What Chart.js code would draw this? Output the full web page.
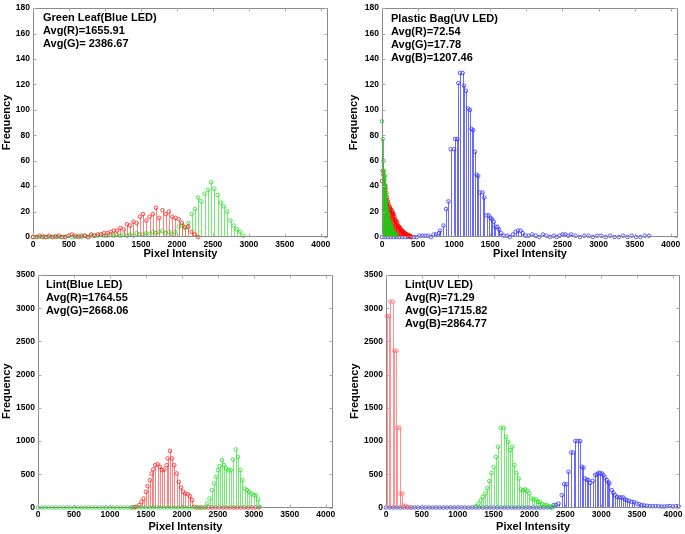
<!DOCTYPE html>
<html>
<head>
<meta charset="utf-8">
<script src="https://cdn.jsdelivr.net/npm/chart.js@4.4.1/dist/chart.umd.min.js"></script>
<style>
  body { margin: 0; background: #fff; }
  #wrap { position: relative; width: 685px; height: 534px; }
  canvas { position: absolute; }
</style>
</head>
<body>
<div id="wrap">
  <canvas id="leaf" width="342" height="262" style="left:0;top:0"></canvas>
  <canvas id="bag" width="343" height="262" style="left:342px;top:0"></canvas>
  <canvas id="lintBlue" width="342" height="272" style="left:0;top:262px"></canvas>
  <canvas id="lintUv" width="343" height="272" style="left:342px;top:262px"></canvas>
</div>
<script>
// tick labels
const xTicks = [0, 500, 1000, 1500, 2000, 2500, 3000, 3500, 4000];
const yTicksTop = [0, 20, 40, 60, 80, 100, 120, 140, 160, 180];
const yTicksBottom = [0, 500, 1000, 1500, 2000, 2500, 3000, 3500];

// Green Leaf (Blue LED)
const leafRedX = [0,45,90,135,180,225,270,315,360,405,450,495,540,585,630,675,720,765,810,855,
  900,945,990,1035,1080,1125,1170,1215,1260,1305,1350,1395,1440,1485,1530,1575,1620,1665,1710,1755,
  1800,1845,1890,1935,1980,2025,2070,2115,2160,2205,2250,2295];
const leafRedY = [0,0,1,0,0,1,0,0,1,0,0,1,2,1,0,1,1,0,2,1,
  2,2,3,3,4,5,5,7,6,10,9,12,11,16,18,13,16,18,23,15,
  21,18,20,16,15,14,11,8,8,4,2,0];
const leafGreenX = [0,45,90,135,180,225,270,315,360,405,450,495,540,585,630,675,720,765,810,855,
  900,945,990,1035,1080,1125,1170,1215,1260,1305,1350,1395,1440,1485,1530,1575,1620,1665,1710,1755,
  1800,1845,1890,1935,1980,2025,2070,2115,2160,2205,2250,2295,2340,2385,2430,2475,2520,2565,2610,2655,
  2700,2745,2790,2835,2880,2925];
const leafGreenY = [0,0,0,1,0,0,0,1,0,0,0,1,0,0,1,0,1,0,1,1,
  1,2,1,1,2,1,2,1,2,1,2,1,3,2,2,3,2,4,3,4,
  5,3,4,2,4,8,9,7,11,18,22,31,28,34,37,43,38,33,27,24,
  20,13,9,6,4,1];

// Plastic Bag (UV LED)
const bagRedX = [0,10,20,30,40,50,60,70,80,90,100,110,120,130,140,150,160,170,180,190,
  200,210,220,230,240,250,260,270,280,290,300,310,320,330,340,350,360,370,380,390,400];
const bagRedY = [44,52,49,45,41,38,35,31,28,26,24,23,22,21,20,19,18,16,14,13,
  12,11,9,8,8,7,6,5,5,4,4,3,3,2,2,2,1,1,1,1,0];
const bagGreenX = [0,10,20,30,40,50,60,70,80,90,100,110,120,130,140,150,160,170,180,190,200];
const bagGreenY = [91,77,60,52,48,40,33,28,22,18,14,12,10,8,7,5,4,3,2,2,1];
const bagBlueX = [0,40,80,120,160,200,240,280,320,360,400,440,480,520,560,600,640,680,715,750,
  790,805,851,887,920,952,998,1012,1044,1057,1080,1117,1136,1163,1195,1218,1241,1264,1287,1310,
  1333,1356,1393,1416,1448,1480,1503,1526,1549,1572,1600,1620,1651,1690,1736,1770,1815,1850,1885,1920,
  1950,1990,2030,2080,2130,2180,2230,2280,2330,2380,2420,2460,2500,2540,2580,2620,2680,2740,2800,2860,
  2920,2980,3040,3100,3160,3220,3280,3340,3400,3460,3520,3580,3640,3700];
const bagBlueY = [0,0,0,0,0,0,0,0,0,0,0,0,0,1,1,1,1,0,2,2,
  3,5,9,22,28,69,69,77,77,121,129,129,119,115,101,100,85,84,67,49,
  48,35,35,31,17,17,15,14,12,8,8,6,3,1,1,0,2,4,5,5,
  3,1,1,2,1,0,2,1,0,1,0,1,2,2,1,2,1,0,1,1,
  0,1,1,0,1,0,0,1,0,1,0,0,1,1];

// Lint (Blue LED)
const lintRedX = [1300,1336,1359,1406,1439,1467,1499,1522,1555,1579,1601,1629,1662,1695,1722,1755,1788,1802,1834,1862,
  1894,1928,1956,1988,2020,2048,2081,2114,2142,2174,2220,2270,2320,2370,2420,2470,2520,2570,2620,2670,
  2720,2770,2820,2870,2920,2970,3020,3070];
const lintRedY = [0,5,10,35,85,135,236,321,411,512,572,637,652,612,562,572,637,738,853,738,
  637,512,386,301,236,211,200,170,110,10,0,0,0,0,0,0,0,0,0,0,
  0,0,0,0,0,0,0,0];
const lintGreenX = [0,50,100,150,200,250,300,350,400,450,500,550,600,650,700,750,800,850,900,950,
  1000,1050,1100,1150,1200,1250,1300,1350,1400,1450,1500,1550,1600,1650,1700,1750,1800,1850,1900,1950,
  2000,2050,2100,2150,2200,2250,2314,2351,2384,2417,2445,2477,2501,2524,2557,2585,2617,2649,2677,2710,
  2747,2780,2812,2840,2873,2906,2934,2966,2998,3026,3059,3082];
const lintGreenY = [0,0,0,0,0,0,0,0,0,0,0,0,0,0,0,0,0,0,0,0,
  0,0,0,0,0,0,0,0,0,0,0,0,0,0,0,0,0,0,0,0,
  0,0,0,0,0,0,0,60,135,261,361,462,562,622,713,637,587,562,562,723,
  874,763,562,411,286,261,236,211,186,186,120,10];

// Lint (UV LED)
const uvRedX = [10,40,60,95,115,145,160,190,200,230,245,275,300,340];
const uvRedY = [2880,2880,3100,3100,2360,2360,1200,1200,210,210,25,25,5,0];
const uvGreenX = [1250,1290,1320,1350,1380,1410,1440,1470,1500,1530,1560,1600,1640,1670,1700,1730,1760,1790,1820,1850,
  1880,1910,1940,1970,2000,2030,2060,2090,2120,2150,2180,2210,2240,2270,2300,2330];
const uvGreenY = [20,60,110,160,210,290,400,520,610,760,914,1200,1200,1065,989,864,914,640,520,437,
  271,261,271,250,211,136,121,121,85,85,50,35,35,20,10,5];
const uvBlueX = [0,50,100,150,200,250,300,350,400,450,500,550,600,650,700,750,800,850,900,950,
  1000,1050,1100,1150,1200,1250,1300,1350,1400,1450,1500,1550,1600,1650,1700,1750,1800,1850,1900,1950,
  2000,2050,2100,2150,2200,2250,2300,
  2335,2370,2405,2451,2484,2515,2544,2581,2614,2640,2670,2707,2730,2753,2776,2800,2823,2846,2883,2916,
  2940,2962,2985,3010,3032,3055,3078,3100,3115,3148,3170,3194,3220,3254,3280,3310,3335,3357,3390,3426,
  3460,3496,3530,3565,3600,3640,3681,3720,3760,3800,3840,3880,3920,3960,4000,4040,4080];
const uvBlueY = [0,0,0,0,0,0,0,0,0,0,0,0,0,0,0,0,0,0,0,0,
  0,0,0,0,0,0,0,0,0,0,0,0,0,0,0,0,0,0,0,0,
  0,0,0,0,0,0,0,
  35,40,60,186,352,350,537,829,829,1000,1000,1000,613,600,437,420,412,370,402,487,
  500,522,515,512,487,450,412,380,362,261,220,186,160,151,151,151,120,110,100,85,
  80,60,50,35,30,25,20,20,20,20,15,15,20,20,15,20,20];

const FONT = "'Liberation Sans', Arial, sans-serif";

function pts(xs, ys) {
  return xs.map((x, i) => ({ x: x, y: ys[i] }));
}

// vertical stems from each marker down to zero
const stems = {
  id: "stems",
  beforeDatasetDraw(chart, args) {
    const ds = chart.data.datasets[args.index];
    const y0 = chart.scales.y.getPixelForValue(0);
    const ctx = chart.ctx;
    ctx.save();
    ctx.strokeStyle = ds.stemColor;
    ctx.lineWidth = 1;
    ctx.beginPath();
    args.meta.data.forEach(p => {
      const x = Math.round(p.x) + 0.5;
      ctx.moveTo(x, p.y);
      ctx.lineTo(x, y0);
    });
    ctx.stroke();
    ctx.restore();
  }
};

// box round the plot with inward tick marks
const frame = {
  id: "frame",
  afterDraw(chart) {
    const a = chart.chartArea;
    const ctx = chart.ctx;
    const l = Math.round(a.left) + 0.5, r = Math.round(a.right) - 0.5;
    const t = Math.round(a.top) + 0.5, b = Math.round(a.bottom) - 0.5;
    ctx.save();
    ctx.strokeStyle = "#8a8a8a";
    ctx.lineWidth = 1;
    ctx.strokeRect(l, t, r - l, b - t);
    ctx.strokeStyle = "#aaa";
    ctx.beginPath();
    chart.scales.x.ticks.forEach(tk => {
      const x = Math.round(chart.scales.x.getPixelForValue(tk.value)) + 0.5;
      ctx.moveTo(x, b); ctx.lineTo(x, b - 3);
      ctx.moveTo(x, t); ctx.lineTo(x, t + 3);
    });
    chart.scales.y.ticks.forEach(tk => {
      const y = Math.round(chart.scales.y.getPixelForValue(tk.value)) + 0.5;
      ctx.moveTo(l, y); ctx.lineTo(l + 3, y);
      ctx.moveTo(r, y); ctx.lineTo(r - 3, y);
    });
    ctx.stroke();
    ctx.restore();
  }
};

// text block in the top-left corner
const notes = {
  id: "notes",
  afterDraw(chart, args, opts) {
    const a = chart.chartArea;
    const ctx = chart.ctx;
    ctx.save();
    ctx.fillStyle = "#000";
    ctx.font = "bold 11px " + FONT;
    ctx.textAlign = "left";
    ctx.textBaseline = "middle";
    opts.lines.forEach((s, i) => {
      ctx.fillText(s, a.left + opts.dx, a.top + opts.dy + i * opts.step);
    });
    ctx.restore();
  }
};

function panel(id, cfg) {
  const tickFont = { family: FONT, size: 8.5, weight: "bold" };
  const titleFont = { family: FONT, size: 11, weight: "bold" };
  new Chart(document.getElementById(id), {
    type: "scatter",
    data: {
      datasets: cfg.series.map(s => ({
        data: pts(s.x, s.y),
        borderColor: s.color,
        backgroundColor: "rgba(0,0,0,0)",
        pointRadius: 1.8,
        pointBorderWidth: 0.8,
        stemColor: s.stem,
        clip: false
      }))
    },
    options: {
      responsive: false,
      animation: false,
      devicePixelRatio: 1,
      layout: { padding: cfg.pad },
      plugins: {
        legend: { display: false },
        tooltip: { enabled: false },
        notes: { lines: cfg.notes, dx: cfg.noteDx, dy: cfg.noteDy, step: 13 }
      },
      scales: {
        x: {
          type: "linear", min: 0, max: 4100,
          grid: { display: false, drawTicks: false }, border: { display: false },
          afterBuildTicks: s => { s.ticks = xTicks.map(v => ({ value: v })); },
          afterFit: s => { s.height = cfg.xH; },
          ticks: { font: tickFont, color: "#000", padding: cfg.xPad, maxRotation: 0, autoSkip: false, callback: v => String(v) },
          title: { display: true, text: "Pixel Intensity", font: titleFont, color: "#000", padding: { top: 0, bottom: cfg.xTitlePad } }
        },
        y: {
          type: "linear", min: 0, max: cfg.yTicks[cfg.yTicks.length - 1],
          grid: { display: false, drawTicks: false }, border: { display: false },
          afterBuildTicks: s => { s.ticks = cfg.yTicks.map(v => ({ value: v })); },
          afterFit: s => { s.width = cfg.yW; },
          ticks: { font: tickFont, color: "#000", padding: 3, autoSkip: false, callback: v => String(v) },
          title: { display: true, text: "Frequency", font: titleFont, color: "#000", padding: { top: cfg.yTitlePad, bottom: 0 } }
        }
      }
    },
    plugins: [stems, frame, notes]
  });
}

const RED = { color: "#ff2020", stem: "rgba(255,90,90,0.75)" };
const GREEN = { color: "#22e022", stem: "rgba(70,230,70,0.75)" };
const BLUE = { color: "#3535ff", stem: "rgba(70,70,255,0.8)" };

panel("leaf", {
  pad: { left: 0, top: 5, right: 14, bottom: 0 }, yW: 33, xH: 25, xPad: 3, xTitlePad: 1, yTitlePad: 0,
  yTicks: yTicksTop, noteDx: 10, noteDy: 10,
  notes: ["Green Leaf(Blue LED)", "Avg(R)=1655.91", "Avg(G)= 2386.67"],
  series: [
    { x: leafRedX, y: leafRedY, ...RED },
    { x: leafGreenX, y: leafGreenY, ...GREEN }
  ]
});

panel("bag", {
  pad: { left: 0, top: 4, right: 7, bottom: 0 }, yW: 40, xH: 25, xPad: 3, xTitlePad: 1, yTitlePad: 5,
  yTicks: yTicksTop, noteDx: 9, noteDy: 11,
  notes: ["Plastic Bag(UV LED)", "Avg(R)=72.54", "Avg(G)=17.78", "Avg(B)=1207.46"],
  series: [
    { x: bagGreenX, y: bagGreenY, color: "#10d010", stem: "rgba(20,210,20,0.85)" },
    { x: bagRedX, y: bagRedY, color: "#ff0000", stem: "rgba(255,20,20,0.85)" },
    { x: bagBlueX, y: bagBlueY, ...BLUE }
  ]
});

panel("lintBlue", {
  pad: { left: 0, top: 13, right: 9, bottom: 0 }, yW: 38, xH: 26.5, xPad: 2.5, xTitlePad: 0, yTitlePad: 0,
  yTicks: yTicksBottom, noteDx: 8, noteDy: 10,
  notes: ["Lint(Blue LED)", "Avg(R)=1764.55", "Avg(G)=2668.06"],
  series: [
    { x: lintGreenX, y: lintGreenY, ...GREEN },
    { x: lintRedX, y: lintRedY, ...RED }
  ]
});

panel("lintUv", {
  pad: { left: 0, top: 13, right: 3, bottom: 0 }, yW: 44, xH: 26.5, xPad: 2.5, xTitlePad: 0, yTitlePad: 6,
  yTicks: yTicksBottom, noteDx: 19, noteDy: 10,
  notes: ["Lint(UV LED)", "Avg(R)=71.29", "Avg(G)=1715.82", "Avg(B)=2864.77"],
  series: [
    { x: uvRedX, y: uvRedY, color: "#ff6868", stem: "rgba(255,120,120,0.8)" },
    { x: uvGreenX, y: uvGreenY, ...GREEN },
    { x: uvBlueX, y: uvBlueY, ...BLUE }
  ]
});
</script>
</body>
</html>
